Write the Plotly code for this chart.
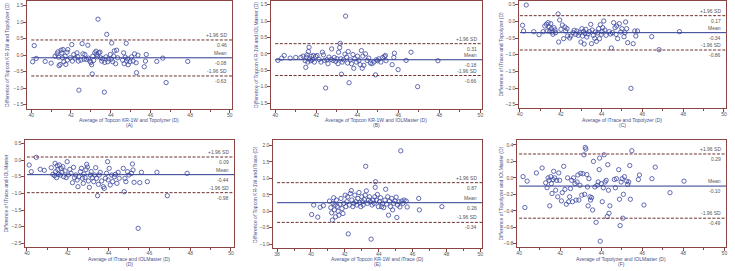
import plotly.graph_objects as go

W, H = 735, 271

# ---------------- data ----------------
panel_letters = ["A", "B", "C", "D", "E", "F"]
x_titles = [
    "Average of Topcon KR-1W and Topolyzer (D)",
    "Average of Topcon KR-1W and IOLMaster (D)",
    "Average of iTrace and Topolyzer (D)",
    "Average of iTrace and IOLMaster (D)",
    "Average of Topcon KR-1W and iTrace (D)",
    "Average of Topolyzer and IOLMaster (D)",
]
y_titles = [
    "Difference of Topcon KR-1W and Topolyzer (D)",
    "Difference of Topcon KR-1W and IOLMaster (D)",
    "Difference of iTrace and Topolyzer (D)",
    "Difference of iTrace and IOLMaster",
    "Difference of Topcon KR-1W and iTrace (D)",
    "Difference of Topolyzer and IOLMaster (D)",
]
upper_loa = [0.46, 0.31, 0.17, 0.09, 0.87, 0.29]
mean_diff = [-0.08, -0.18, -0.34, -0.44, 0.26, -0.10]
lower_loa = [-0.63, -0.66, -0.86, -0.98, -0.34, -0.49]

x_A = [40.07, 40.15, 40.25, 40.7, 41.0, 41.2, 41.3, 41.34, 41.37, 41.4, 41.45, 41.5, 41.54, 41.57, 41.6,
       41.64, 41.7, 41.74, 41.8, 41.82, 41.84, 41.96, 42.04, 42.07, 42.14, 42.2, 42.3, 42.34, 42.37, 42.4,
       42.5, 42.56, 42.6, 42.66, 42.7, 42.78, 42.85, 42.88, 42.95, 43.0, 43.04, 43.07, 43.1, 43.14, 43.2,
       43.26, 43.3, 43.33, 43.36, 43.4, 43.46, 43.5, 43.55, 43.6, 43.68, 43.7, 43.76, 43.8, 43.85, 43.9,
       43.98, 44.03, 44.05, 44.1, 44.15, 44.18, 44.25, 44.3, 44.35, 44.6, 44.65, 44.68, 44.73, 44.78, 44.8,
       44.85, 44.88, 44.97, 45.05, 45.13, 45.2, 45.28, 45.37, 45.3, 45.69, 45.75, 45.79, 46.32, 46.62, 46.79,
       47.88]
y_A = [-0.2, 0.29, -0.1, -0.19, -0.24, -0.03, 0.04, 0.1, -0.06, -0.32, -0.28, 0.15, 0.07, -0.08, 0.17,
       -0.2, -0.03, -0.28, 0.09, -0.15, 0.17, -0.08, 0.32, -0.18, 0.02, -0.09, 0.07, -0.05, -0.18, -1.06,
       -0.15, 0.35, 0.04, -0.12, 0.02, -0.13, 0.3, -0.09, -0.18, -0.22, -0.29, -0.57, -0.03, -0.16, 0.07,
       0.12, 0.02, -0.05, 1.09, 0.07, 0.09, -0.08, -0.18, -0.11, -1.12, -0.22, -0.05, 0.63, -0.2, -0.11,
       0.02, -0.12, 0.37, -0.2, -0.03, 0.13, -0.26, 0.15, -0.08, -0.15, 0.07, -0.26, -0.06, 0.36, -0.18,
       -0.11, -0.29, -0.2, -0.05, -0.18, 0.04, -0.23, 0.0, -0.53, -0.35, -0.18, 0.02, -0.19, -0.09, -0.83,
       -0.19]

x_B = [40.13, 40.32, 40.44, 40.73, 41.0, 41.25, 41.36, 41.46, 41.49, 41.52, 41.55, 41.59, 41.62, 41.65, 41.68,
       41.73, 41.76, 41.81, 41.86, 41.91, 41.97, 42.04, 42.14, 42.23, 42.3, 42.35, 42.4, 42.46, 42.52, 42.57,
       42.62, 42.72, 42.75, 42.82, 42.88, 42.95, 43.01, 43.06, 43.09, 43.14, 43.17, 43.2, 43.23, 43.27, 43.33,
       43.4, 43.43, 43.48, 43.53, 43.56, 43.6, 43.66, 43.72, 43.79, 43.83, 43.88, 43.95, 44.01, 44.08, 44.14,
       44.2, 44.24, 44.27, 44.32, 44.4, 44.48, 44.56, 44.64, 44.72, 44.81, 44.89, 44.93, 45.0, 45.05, 45.15,
       45.24, 45.32, 45.37, 45.4, 45.7, 45.78, 45.81, 45.99, 46.38, 46.62, 46.94, 47.93]
y_B = [-0.2, -0.13, -0.05, -0.13, -0.11, -0.11, -0.07, -0.21, -0.41, -0.1, -0.03, -0.25, 0.07, 0.2, -0.15,
       -0.21, -0.07, -0.18, -0.05, -0.25, -0.08, -0.05, -0.17, -0.25, 0.05, -0.03, -0.2, -1.04, -0.18, -0.3,
       -0.1, -0.17, 0.15, -0.2, -0.11, -0.23, -0.15, -0.3, 0.05, 0.19, 0.32, -0.15, -0.62, -0.25, -0.18,
       -0.01, 1.15, -0.1, -0.28, 0.07, -0.88, -0.18, -0.3, -0.02, -0.44, -0.15, -0.25, -0.07, -0.2, -0.33,
       0.1, -0.44, -0.07, -0.35, 0.0, -0.2, -0.13, -0.28, -0.3, -0.25, -0.64, -0.18, -0.21, -0.15, -0.25,
       -0.11, -0.08, -0.05, -0.21, -0.33, -0.11, 0.02, -0.48, -0.2, 0.05, -1.0, -0.21]

x_C = [40.13, 40.18, 40.31, 40.68, 40.94, 41.14, 41.22, 41.3, 41.33, 41.38, 41.43, 41.46, 41.51, 41.54, 41.59,
       41.62, 41.67, 41.72, 41.75, 41.87, 41.9, 41.95, 42.01, 42.08, 42.14, 42.21, 42.24, 42.31, 42.34, 42.44,
       42.5, 42.6, 42.66, 42.73, 42.79, 42.86, 42.92, 42.99, 43.04, 43.07, 43.12, 43.15, 43.18, 43.23, 43.28,
       43.34, 43.41, 43.47, 43.51, 43.54, 43.6, 43.67, 43.7, 43.75, 43.81, 43.86, 43.9, 43.94, 43.99, 44.03,
       44.06, 44.11, 44.16, 44.22, 44.38, 44.44, 44.48, 44.54, 44.59, 44.66, 44.71, 44.74, 44.79, 44.87, 44.94,
       45.0, 45.1, 45.15, 45.18, 45.23, 45.28, 45.44, 45.55, 45.63, 45.68, 45.76, 46.46, 46.82, 47.82]
y_C = [-0.12, -0.29, 0.49, -0.31, -0.4, -0.31, -0.14, -0.09, -0.29, -0.04, -0.16, -0.3, -0.07, -0.22, -0.32,
       -0.39, -0.19, -0.26, -0.34, 0.22, -0.62, 0.04, -0.24, -0.11, -0.52, -0.17, -0.29, -0.22, -0.44, -0.5,
       -0.44, -0.34, -0.27, -0.39, -0.29, -0.42, -0.34, -0.62, -0.22, -0.44, -0.3, -0.68, -0.36, -0.24, -0.47,
       -0.38, -0.31, -0.09, -0.67, -0.26, -0.42, -0.51, -0.32, -0.6, -0.35, -0.22, -0.52, -0.1, -0.39, -0.31,
       -0.19, 0.01, -0.26, -0.42, -0.31, -0.38, -0.8, -0.34, -0.04, -0.19, -0.39, -0.14, -0.52, -0.07, -0.32,
       -0.22, -0.46, -0.34, -0.02, -0.22, -0.64, -2.01, -0.67, -0.29, -0.44, -0.29, -0.46, -0.85, -0.31]

x_D = [40.11, 40.21, 40.46, 40.65, 40.85, 41.19, 41.27, 41.35, 41.38, 41.41, 41.45, 41.48, 41.51, 41.54, 41.59,
       41.64, 41.67, 41.72, 41.76, 41.8, 41.87, 41.92, 41.97, 42.03, 42.1, 42.16, 42.23, 42.28, 42.33, 42.39,
       42.46, 42.5, 42.55, 42.62, 42.67, 42.72, 42.76, 42.8, 42.85, 42.89, 42.93, 42.96, 43.01, 43.06, 43.11,
       43.15, 43.2, 43.27, 43.32, 43.37, 43.41, 43.46, 43.5, 43.54, 43.59, 43.66, 43.74, 43.79, 43.85, 43.9,
       43.95, 43.98, 44.03, 44.08, 44.15, 44.2, 44.28, 44.34, 44.41, 44.47, 44.52, 44.72, 44.77, 44.8, 44.85,
       44.93, 45.0, 45.12, 45.17, 45.2, 45.25, 45.45, 45.53, 45.61, 45.9, 46.37, 46.88, 47.85]
y_D = [-0.15, -0.35, 0.08, -0.28, -0.31, -0.23, -0.43, -0.47, -0.1, -0.35, -0.53, -0.17, -0.29, -0.43, -0.15,
       -0.45, -0.25, -0.37, -0.2, -0.5, -0.33, -0.53, -0.05, -0.45, -0.28, -0.4, -0.68, -0.22, -0.53, -0.45,
       -0.6, -0.8, -0.5, -0.35, -0.25, -0.55, -0.7, -0.42, -0.53, -0.29, -0.13, -0.21, -0.63, -0.82, -0.45,
       -0.35, -0.53, -0.65, -0.45, -0.23, -0.55, -1.07, -0.73, -0.45, -0.37, -0.63, -0.8, -0.85, -0.55, -0.4,
       -0.05, -0.6, -0.25, -0.75, -0.45, -0.65, -0.5, -0.43, -0.7, -0.37, -0.55, -0.25, -0.95, -0.55, -0.65,
       -0.35, -0.45, -0.4, -0.12, -0.3, -0.67, -2.05, -0.68, -0.37, -0.65, -0.37, -1.07, -0.4]

x_E = [40.04, 40.16, 40.4, 40.54, 40.73, 41.09, 41.17, 41.22, 41.26, 41.3, 41.34, 41.38, 41.42, 41.45, 41.5,
       41.55, 41.6, 41.65, 41.71, 41.77, 41.83, 41.89, 41.94, 42.02, 42.06, 42.12, 42.16, 42.2, 42.26, 42.32,
       42.38, 42.41, 42.47, 42.53, 42.59, 42.65, 42.71, 42.77, 42.83, 42.88, 42.94, 43.0, 43.04, 43.08, 43.14,
       43.2, 43.23, 43.27, 43.33, 43.39, 43.45, 43.51, 43.55, 43.61, 43.67, 43.73, 43.77, 43.79, 43.81, 43.86,
       43.92, 43.98, 44.05, 44.11, 44.17, 44.23, 44.29, 44.37, 44.41, 44.47, 44.53, 44.58, 44.64, 44.7, 44.76,
       44.82, 44.88, 44.96, 45.03, 45.07, 45.11, 45.19, 45.25, 45.3, 45.36, 45.42, 45.5, 45.62, 45.68, 46.36,
       46.4, 47.73]
y_E = [-0.1, 0.19, -0.18, 0.12, 0.17, 0.31, 0.11, -0.05, -0.27, 0.24, 0.41, 0.04, 0.19, -0.17, 0.34,
       0.15, 0.0, -0.12, 0.21, 0.39, 0.08, -0.07, 0.24, 0.49, 0.14, 0.29, 0.44, -0.69, 0.19, 0.54,
       0.63, 0.34, 0.14, 0.24, 0.49, 0.29, 0.19, 0.39, 0.57, 0.26, 0.14, 0.44, 0.29, 0.19, 0.36,
       0.49, 1.37, 0.62, 0.24, 0.34, 0.44, 0.29, -0.85, 0.19, 0.34, 0.24, 0.44, 0.73, 0.9, 0.34,
       0.51, 0.14, 0.29, 0.41, 0.14, 0.24, 0.11, 0.34, 0.67, 0.22, 0.44, -0.12, 0.31, 0.14, 0.39,
       0.04, 0.24, 0.31, 0.43, -0.19, 0.19, 0.29, 0.13, 1.84, 0.31, 0.24, 0.34, 0.31, 0.13, 0.39,
       0.04, 0.14]

x_F = [40.19, 40.28, 40.39, 40.84, 41.12, 41.29, 41.36, 41.41, 41.46, 41.49, 41.54, 41.57, 41.6, 41.65, 41.68,
       41.73, 41.78, 41.83, 41.88, 41.93, 41.97, 42.06, 42.1, 42.17, 42.23, 42.3, 42.36, 42.41, 42.46, 42.5,
       42.56, 42.6, 42.65, 42.72, 42.77, 42.82, 42.86, 42.91, 42.96, 43.0, 43.05, 43.11, 43.16, 43.19, 43.22,
       43.25, 43.3, 43.33, 43.36, 43.4, 43.45, 43.48, 43.53, 43.58, 43.62, 43.69, 43.75, 43.8, 43.85, 43.9,
       43.92, 43.95, 44.0, 44.05, 44.1, 44.14, 44.19, 44.24, 44.29, 44.32, 44.35, 44.38, 44.42, 44.64, 44.69,
       44.74, 44.85, 44.89, 44.92, 44.97, 45.02, 45.05, 45.08, 45.13, 45.24, 45.29, 45.34, 45.39, 45.42, 45.49,
       45.81, 45.86, 46.08, 46.47, 46.63, 47.35, 48.03]
y_F = [0.015, -0.36, -0.04, 0.06, 0.12, -0.06, -0.12, 0.0, -0.03, -0.34, 0.015, -0.07, -0.19, -0.02, 0.08,
       0.0, -0.15, -0.03, -0.23, 0.06, -0.03, -0.28, -0.18, 0.14, -0.14, -0.32, 0.0, -0.29, -0.23, -0.13,
       -0.03, -0.29, 0.0, -0.07, -0.27, -0.05, 0.035, -0.27, -0.09, 0.055, -0.21, 0.05, 0.28, -0.2, 0.37,
       0.35, 0.04, -0.11, -0.34, -0.01, -0.23, -0.27, -0.24, -0.39, 0.2, -0.11, -0.54, -0.09, -0.05, 0.1,
       0.24, -0.77, -0.07, -0.29, -0.12, 0.28, -0.05, -0.03, -0.47, 0.16, -0.15, -0.43, -0.34, -0.02, -0.12,
       -0.01, 0.1, -0.26, -0.58, -0.05, -0.01, -0.49, -0.2, 0.015, -0.04, -0.08, -0.05, 0.15, -0.26, 0.33,
       -0.02, 0.035, -0.33, -0.01, 0.13, -0.18, -0.04]

xs = [x_A, x_B, x_C, x_D, x_E, x_F]
ys = [y_A, y_B, y_C, y_D, y_E, y_F]

# ---------------- layout geometry (pixels) ----------------
# plot-area boxes: (left, right, top, bottom)
boxes = [
    (25, 231, 1, 109), (270, 482, 1, 109), (519, 727, 1, 108),
    (23, 233, 140, 247), (272, 482, 140, 248), (517, 727, 140, 247),
]
title_y = [120, 119.5, 119.5, 258.5, 258.5, 258.5]
x_ranges = [(39.78, 50.11), (39.79, 50.08), (39.95, 50.1), (39.9, 50.15), (37.75, 50.1), (39.89, 50.08)]
y_ranges = [(-1.63, 1.64), (-1.68, 1.61), (-2.6, 0.61), (-2.61, 0.6), (-1.12, 2.17), (-0.84, 0.46)]
x_tick0 = [40, 40, 40, 40, 38, 40]
y_dticks = [0.5, 0.5, 0.5, 0.5, 0.5, 0.2]
y_title_x = [5, 255, 501, 4, 254, 501]

FONT = "Liberation Sans, Arial, sans-serif"
FS = 5
FRAME = "#8a4545"
TICKC = "#555555"
TITLEC = "#4a5088"
PTC = "#3c48a0"
MEANC = "#2b3a8f"
SDC = "#6e3030"

fig = go.Figure()
shapes = []
annotations = []
layout = {}

for i in range(6):
    n = i + 1
    sx = "" if n == 1 else str(n)
    l, r, t, b = boxes[i]
    xd = [l / W, r / W]
    yd = [1 - b / H, 1 - t / H]

    fig.add_trace(go.Scatter(
        x=xs[i], y=ys[i], mode="markers", xaxis="x" + sx, yaxis="y" + sx,
        marker=dict(symbol="circle-open", size=4.3, color=PTC, line=dict(width=0.8, color=PTC)),
        showlegend=False, hoverinfo="x+y"))

    layout["xaxis" + sx] = dict(
        domain=xd, range=list(x_ranges[i]), anchor="y" + sx,
        tick0=x_tick0[i], dtick=2, ticks="outside", ticklen=2.5, tickwidth=0.8, tickcolor=FRAME,
        ticklabelstandoff=-2,
        showline=True, linecolor=FRAME, linewidth=1, mirror=True,
        showgrid=False, zeroline=False,
        minor=dict(dtick=1, tick0=x_tick0[i], ticks="outside", ticklen=2, tickcolor=FRAME, showgrid=False),
        tickfont=dict(size=FS, color=TICKC, family=FONT), fixedrange=True)
    layout["yaxis" + sx] = dict(
        domain=yd, range=list(y_ranges[i]), anchor="x" + sx,
        dtick=y_dticks[i], tick0=0, ticks="outside", ticklen=2.5, tickwidth=0.8, tickcolor=FRAME,
        ticklabelstandoff=-1,
        tickformat=".1f", showline=True, linecolor=FRAME, linewidth=1, mirror=True,
        showgrid=False, zeroline=False,
        tickfont=dict(size=FS, color=TICKC, family=FONT), fixedrange=True)

    xr = x_ranges[i][1]
    x0 = x_tick0[i]
    for val, col, dash in [(upper_loa[i], SDC, "3px,1.6px"), (mean_diff[i], MEANC, "solid"),
                           (lower_loa[i], SDC, "3px,1.6px")]:
        shapes.append(dict(type="line", xref="x" + sx, yref="y" + sx, x0=x0, x1=xr, y0=val, y1=val,
                           line=dict(color=col, width=1, dash=dash)))

    for name, val in [("+1.96 SD", upper_loa[i]), ("Mean", mean_diff[i]), ("-1.96 SD", lower_loa[i])]:
        annotations.append(dict(xref="x" + sx + " domain", yref="y" + sx, x=0.985, y=val,
                                text=name, showarrow=False, xanchor="right", yanchor="bottom", yshift=0,
                                font=dict(size=FS, color=TICKC, family=FONT)))
        annotations.append(dict(xref="x" + sx + " domain", yref="y" + sx, x=0.985, y=val,
                                text=f"{val:.2f}", showarrow=False, xanchor="right", yanchor="top", yshift=0,
                                font=dict(size=FS, color=TICKC, family=FONT)))

    # axis titles
    cx = (l + r) / 2 / W
    ty = title_y[i]
    annotations.append(dict(xref="paper", yref="paper", x=cx, y=1 - ty / H, text=x_titles[i],
                            showarrow=False, xanchor="center", yanchor="middle",
                            font=dict(size=FS, color=TITLEC, family=FONT)))
    annotations.append(dict(xref="paper", yref="paper", x=cx, y=1 - (ty + 5.2) / H,
                            text="(" + panel_letters[i] + ")",
                            showarrow=False, xanchor="center", yanchor="middle",
                            font=dict(size=FS, color=TITLEC, family=FONT)))
    annotations.append(dict(xref="paper", yref="paper", x=y_title_x[i] / W, y=1 - ((t + b) / 2) / H,
                            text=y_titles[i], textangle=-90,
                            showarrow=False, xanchor="center", yanchor="middle",
                            font=dict(size=FS, color=TITLEC, family=FONT)))

fig.update_layout(
    width=W, height=H, margin=dict(l=0, r=0, t=0, b=0),
    paper_bgcolor="white", plot_bgcolor="white",
    shapes=shapes, annotations=annotations, showlegend=False,
    **layout)

fig.write_html("out.html", config={"displayModeBar": False},
               post_script="document.body.style.margin='0';document.body.style.overflow='hidden';")
